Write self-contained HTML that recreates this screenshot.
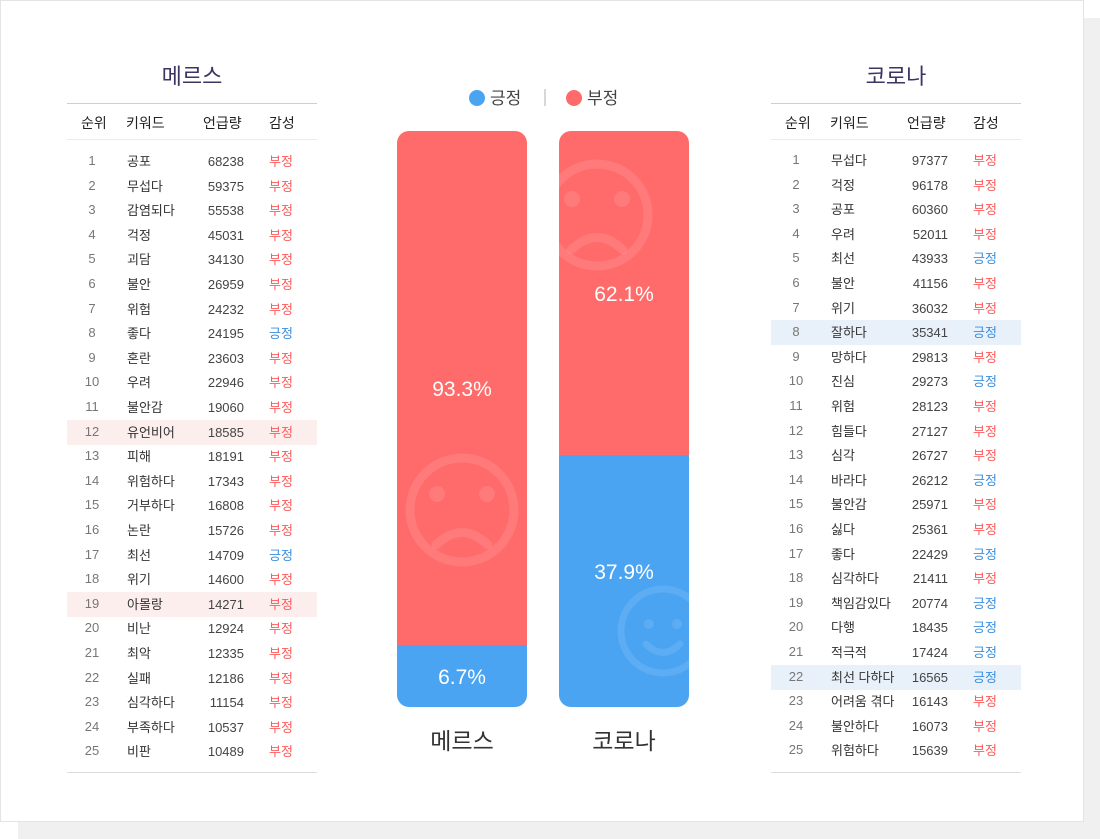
<!DOCTYPE html>
<html><head><meta charset="utf-8">
<style>
body{margin:0;width:1100px;height:839px;background:#fff;position:relative;overflow:hidden;font-family:"Liberation Sans","Noto Sans CJK KR",sans-serif;}
.shadow{position:absolute;left:18px;top:18px;width:1082px;height:821px;background:#f0f0f0;}
.card{position:absolute;left:0;top:0;width:1082px;height:820px;background:#fff;border:1px solid #e4e4e4;}
.abs{position:absolute;}
.title{position:absolute;width:250px;text-align:center;font-size:22px;color:#3b3564;top:62px;line-height:30px;}
.hline{position:absolute;height:0;}
.hd{position:absolute;font-size:14px;color:#222;top:114px;line-height:18px;}
.cell{position:absolute;font-size:13px;color:#333;white-space:nowrap;line-height:16px;height:16px;}
.rank{color:#777;text-align:center;width:30px;}
.num{color:#444;text-align:right;width:50px;}
.neg{color:#ff5a5a;}
.pos{color:#3a8fe0;}
.hl{position:absolute;height:25px;}
</style></head><body>
<div class="shadow"></div>
<div class="card"></div>
<div id="root"></div>
<svg id="chart" class="abs" style="left:0;top:0" width="1100" height="839"></svg>
<script>
const mersKeywords=["공포","무섭다","감염되다","걱정","괴담","불안","위험","좋다","혼란","우려","불안감","유언비어","피해","위험하다","거부하다","논란","최선","위기","아몰랑","비난","최악","실패","심각하다","부족하다","비판"];
const mersCounts=[68238,59375,55538,45031,34130,26959,24232,24195,23603,22946,19060,18585,18191,17343,16808,15726,14709,14600,14271,12924,12335,12186,11154,10537,10489];
const mersSent=["부정","부정","부정","부정","부정","부정","부정","긍정","부정","부정","부정","부정","부정","부정","부정","부정","긍정","부정","부정","부정","부정","부정","부정","부정","부정"];
const coronaKeywords=["무섭다","걱정","공포","우려","최선","불안","위기","잘하다","망하다","진심","위험","힘들다","심각","바라다","불안감","싫다","좋다","심각하다","책임감있다","다행","적극적","최선 다하다","어려움 겪다","불안하다","위험하다"];
const coronaCounts=[97377,96178,60360,52011,43933,41156,36032,35341,29813,29273,28123,27127,26727,26212,25971,25361,22429,21411,20774,18435,17424,16565,16143,16073,15639];
const coronaSent=["부정","부정","부정","부정","긍정","부정","부정","긍정","부정","긍정","부정","부정","부정","긍정","부정","부정","긍정","부정","긍정","긍정","긍정","긍정","부정","부정","부정"];
const mersHighlight=[12,19];
const coronaHighlight=[8,22];
const barLabels=["메르스","코로나"];
const positivePct=[6.7,37.9];
const negativePct=[93.3,62.1];

const root=document.getElementById('root');
function mk(cls,style,text){const d=document.createElement('div');d.className=cls;d.style.cssText=style;if(text!==undefined)d.textContent=text;root.appendChild(d);return d;}
function table(x,title,kws,counts,sents,hls,hlColor,y0,prefix){
  const t=mk('title','left:'+x+'px',title);
  
  
  const l1=mk('hline','left:'+x+'px;top:103px;width:250px;border-top:1.5px solid #cfcfcf');
  
  
  const l2=mk('hline','left:'+x+'px;top:139px;width:250px;border-top:1px solid #ececec');
  
  
  const l3=mk('hline','left:'+x+'px;top:772px;width:250px;border-top:1px solid #dcdcdc');
  
  
  const hds=[["순위",14],["키워드",59],["언급량",136],["감성",202]];
  hds.forEach(h=>{const e=mk('hd','left:'+(x+h[1])+'px',h[0]);
    
    });
  const step=24.6;
  hls.forEach(r=>{const e=mk('hl','left:'+x+'px;width:250px;top:'+(y0+(r-1)*step-5)+'px;background:'+hlColor);
    
    });
  kws.forEach((k,i)=>{
    const y=y0+i*step;
    const a=mk('cell rank','left:'+(x+10)+'px;top:'+(y-1)+'px',String(i+1));
    
    
    const b=mk('cell','left:'+(x+60)+'px;top:'+y+'px',k);
    
    
    const c=mk('cell num','left:'+(x+127)+'px;top:'+y+'px',String(counts[i]));
    
    
    const d=mk('cell '+(sents[i]==="긍정"?'pos':'neg'),'left:'+(x+202)+'px;top:'+y+'px',sents[i]);
    
    
  });
}
table(67,"메르스",mersKeywords,mersCounts,mersSent,mersHighlight,'#fdeeee',154,'mers');
table(771,"코로나",coronaKeywords,coronaCounts,coronaSent,coronaHighlight,'#e8f1fa',153,'corona');

const NS='http://www.w3.org/2000/svg';
const svg=document.getElementById('chart');
function s(tag,attrs,parent){const e=document.createElementNS(NS,tag);for(const k in attrs)e.setAttribute(k,attrs[k]);(parent||svg).appendChild(e);return e;}
let e=s('circle',{cx:477,cy:98,r:8,fill:'#4aa4f2'});


e=s('text',{x:490,y:104,'font-size':17,fill:'#444','font-family':'Liberation Sans, Noto Sans CJK KR, sans-serif'});e.textContent='긍정';


e=s('line',{x1:545,y1:89,x2:545,y2:106,stroke:'#d8d8d8','stroke-width':2});


e=s('circle',{cx:574,cy:98,r:8,fill:'#ff6b6b'});


e=s('text',{x:587,y:104,'font-size':17,fill:'#444','font-family':'Liberation Sans, Noto Sans CJK KR, sans-serif'});e.textContent='부정';



const barTop=131,barBottom=707,barW=130,barXs0=397,barGap=162;
function posH(p){return Math.min(barBottom-barTop,Math.max(0,p*6.09+21.2));}
const defs=s('defs',{});
barLabels.forEach((lab,i)=>{
  const x=barXs0+i*barGap;
  const cp=s('clipPath',{id:'clip'+i},defs);
  s('rect',{x:x,y:barTop,width:barW,height:barBottom-barTop,rx:12},cp);
  const g=s('g',{'clip-path':'url(#clip'+i+')'});
  
  
  const split=barBottom-posH(positivePct[i]);
  const neg=s('rect',{x:x,y:barTop,width:barW,height:split-barTop,fill:'#ff6b6b'},g);
  
  
  const pos=s('rect',{x:x,y:split,width:barW,height:barBottom-split,fill:'#4aa4f2'},g);
  
  
  const sad=i===0?{cx:x+65,cy:510,r:52}:{cx:x+38,cy:215,r:51};
  const fc='rgba(255,255,255,0.1)';
  const fg=s('g',{},g);
  
  
  s('circle',{cx:sad.cx,cy:sad.cy,r:sad.r,fill:'none',stroke:fc,'stroke-width':9},fg);
  s('circle',{cx:sad.cx-25,cy:sad.cy-16,r:8,fill:fc},fg);
  s('circle',{cx:sad.cx+25,cy:sad.cy-16,r:8,fill:fc},fg);
  s('path',{d:'M'+(sad.cx-26)+' '+(sad.cy+35)+' Q'+sad.cx+' '+(sad.cy+10)+' '+(sad.cx+26)+' '+(sad.cy+35),fill:'none',stroke:fc,'stroke-width':9,'stroke-linecap':'round'},fg);
  if(i===1){
    const h={cx:x+104,cy:631,r:42};
    const hc='rgba(255,255,255,0.1)';
    const hg=s('g',{},g);
    
    
    s('circle',{cx:h.cx,cy:h.cy,r:h.r,fill:'none',stroke:hc,'stroke-width':7},hg);
    s('circle',{cx:h.cx-14,cy:h.cy-7,r:5,fill:hc},hg);
    s('circle',{cx:h.cx+14,cy:h.cy-7,r:5,fill:hc},hg);
    s('path',{d:'M'+(h.cx-17)+' '+(h.cy+13)+' Q'+h.cx+' '+(h.cy+30)+' '+(h.cx+17)+' '+(h.cy+13),fill:'none',stroke:hc,'stroke-width':7,'stroke-linecap':'round'},hg);
  }
  const t1=s('text',{x:x+barW/2,y:(barTop+split)/2+8,'text-anchor':'middle','font-size':21,fill:'#fff','font-family':'Liberation Sans, sans-serif'});
  t1.textContent=negativePct[i].toFixed(1)+'%';
  
  
  const t2=s('text',{x:x+barW/2,y:(i===0?(split+barBottom)/2:split+116)+8,'text-anchor':'middle','font-size':21,fill:'#fff','font-family':'Liberation Sans, sans-serif'});
  t2.textContent=positivePct[i].toFixed(1)+'%';
  
  
  const t3=s('text',{x:x+barW/2,y:749,'text-anchor':'middle','font-size':23,fill:'#333','font-family':'Liberation Sans, Noto Sans CJK KR, sans-serif'});
  t3.textContent=lab;
  
  
});
</script>
</body></html>
